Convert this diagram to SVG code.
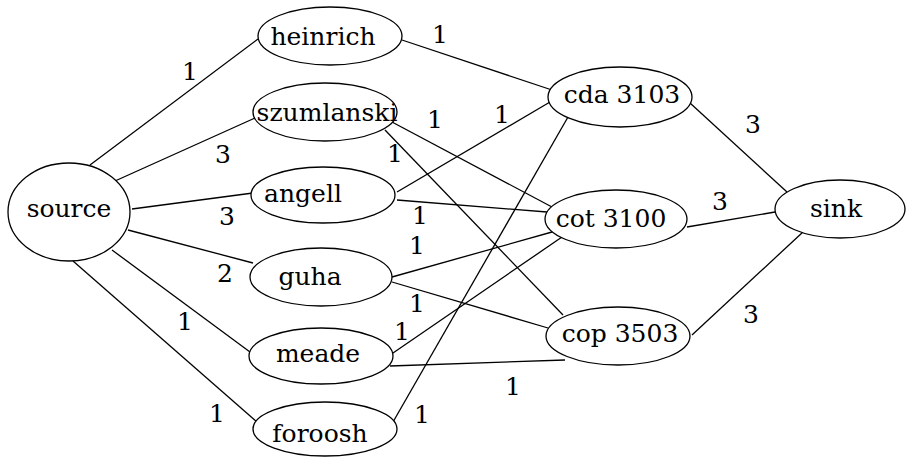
<svg xmlns="http://www.w3.org/2000/svg" width="906" height="457" viewBox="0 0 906 457">
  <style>
    .node ellipse { fill: #ffffff; stroke: #000000; stroke-width: 1.3; }
    #edges line { stroke: #000000; stroke-width: 1.3; }
    text { fill: #000000; text-anchor: middle; }
  </style>
  <rect width="906" height="457" fill="#ffffff"/>

  <g font-family="DejaVu Serif, Liberation Serif, serif" font-size="25">
  <!-- connectors with capacity labels -->
  <g id="edges">
    <line x1="90" y1="165" x2="258" y2="39"/>
    <line x1="115" y1="181" x2="255" y2="118"/>
    <line x1="132" y1="209" x2="253" y2="193"/>
    <line x1="128" y1="230" x2="253" y2="263"/>
    <line x1="112" y1="250" x2="250" y2="352"/>
    <line x1="73" y1="261" x2="257" y2="422"/>
    <line x1="402" y1="40" x2="552" y2="90"/>
    <line x1="392" y1="122" x2="552" y2="207"/>
    <line x1="385" y1="130" x2="563" y2="315"/>
    <line x1="397" y1="192" x2="550" y2="102"/>
    <line x1="397" y1="200" x2="547" y2="212"/>
    <line x1="392" y1="277" x2="552" y2="232"/>
    <line x1="392" y1="282" x2="548" y2="328"/>
    <line x1="393" y1="353" x2="562" y2="237"/>
    <line x1="390" y1="366" x2="565" y2="360"/>
    <line x1="393" y1="422" x2="568" y2="117"/>
    <line x1="690" y1="103" x2="787" y2="192"/>
    <line x1="687" y1="227" x2="775" y2="212"/>
    <line x1="692" y1="335" x2="803" y2="232"/>

    <text x="190" y="80">1</text>
    <text x="223" y="163">3</text>
    <text x="227" y="225">3</text>
    <text x="225" y="282">2</text>
    <text x="185" y="330">1</text>
    <text x="217" y="422">1</text>
    <text x="440" y="43">1</text>
    <text x="435" y="128">1</text>
    <text x="502" y="123">1</text>
    <text x="395" y="162">1</text>
    <text x="420" y="224">1</text>
    <text x="417" y="254">1</text>
    <text x="417" y="312">1</text>
    <text x="402" y="340">1</text>
    <text x="513" y="395">1</text>
    <text x="422" y="423">1</text>
    <text x="753" y="133">3</text>
    <text x="720" y="210">3</text>
    <text x="751" y="323">3</text>
  </g>

  <g id="source" class="node">
    <ellipse cx="69" cy="212" rx="61" ry="49"/>
    <text x="69" y="217">source</text>
  </g>
  <g id="heinrich" class="node">
    <ellipse cx="330" cy="36" rx="72" ry="29"/>
    <text x="323" y="45">heinrich</text>
  </g>
  <g id="szumlanski" class="node">
    <ellipse cx="325" cy="112" rx="72" ry="29"/>
    <text x="327" y="121">szumlanski</text>
  </g>
  <g id="angell" class="node">
    <ellipse cx="323" cy="195" rx="72" ry="28"/>
    <text x="303" y="202">angell</text>
  </g>
  <g id="guha" class="node">
    <ellipse cx="321" cy="277" rx="71" ry="29"/>
    <text x="310" y="285">guha</text>
  </g>
  <g id="meade" class="node">
    <ellipse cx="321" cy="356" rx="72" ry="28"/>
    <text x="318" y="362">meade</text>
  </g>
  <g id="foroosh" class="node">
    <ellipse cx="325" cy="429" rx="72" ry="27"/>
    <text x="320" y="442">foroosh</text>
  </g>
  <g id="cda3103" class="node">
    <ellipse cx="620" cy="97" rx="72" ry="30"/>
    <text x="622" y="103">cda 3103</text>
  </g>
  <g id="cot3100" class="node">
    <ellipse cx="616" cy="219" rx="71" ry="29"/>
    <text x="611" y="227">cot 3100</text>
  </g>
  <g id="cop3503" class="node">
    <ellipse cx="618" cy="336" rx="72" ry="29"/>
    <text x="620" y="342">cop 3503</text>
  </g>
  <g id="sink" class="node">
    <ellipse cx="840" cy="209" rx="65" ry="29"/>
    <text x="836" y="217">sink</text>
  </g>
  </g>
</svg>
